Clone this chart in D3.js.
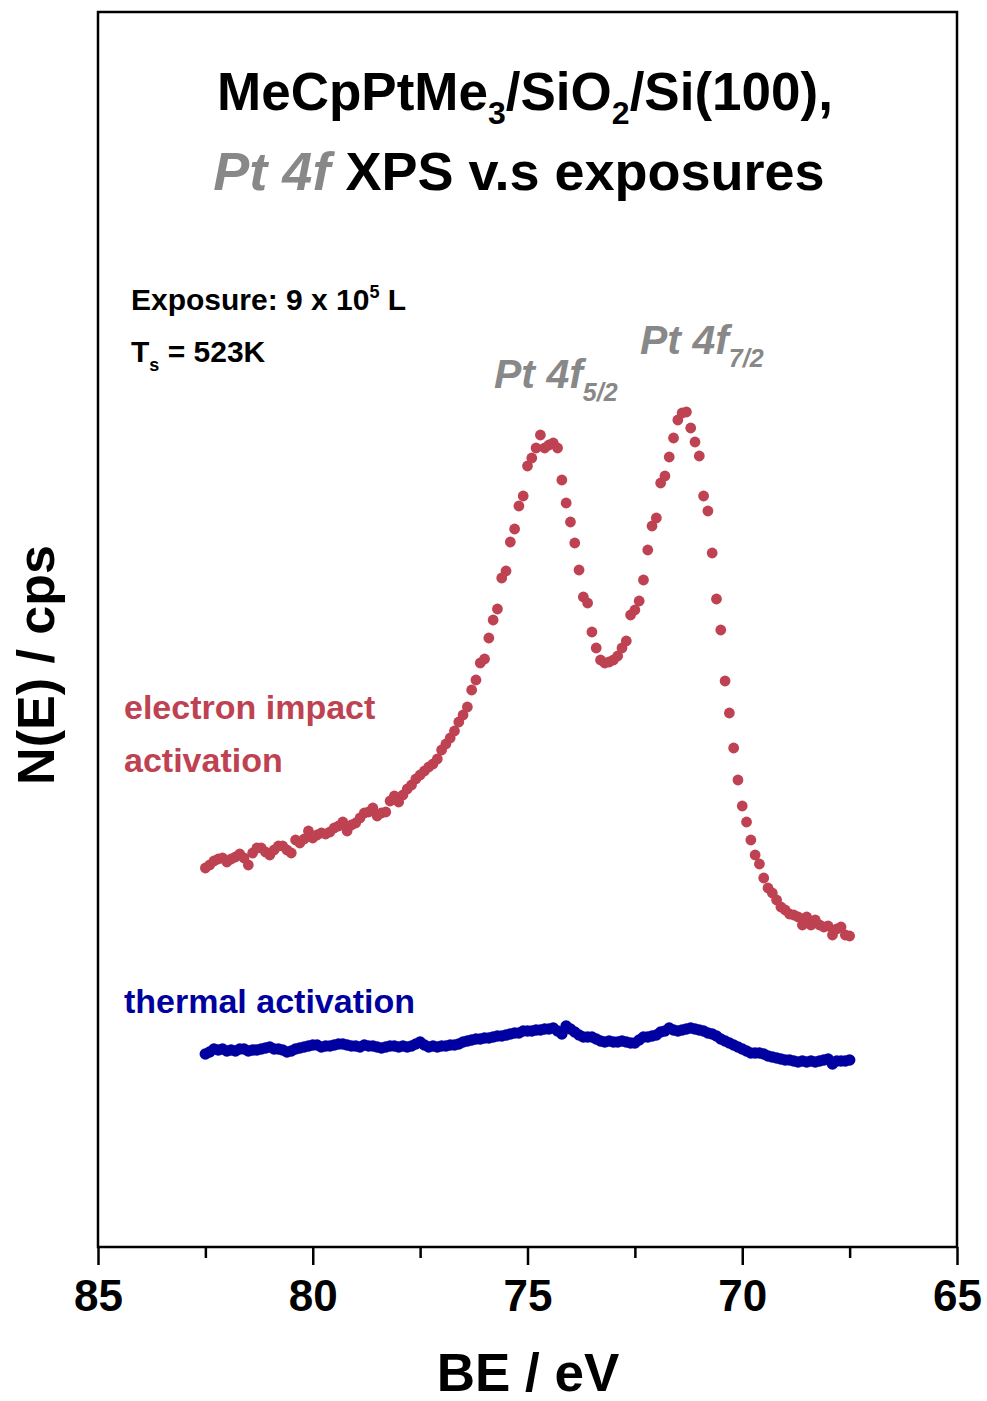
<!DOCTYPE html>
<html>
<head>
<meta charset="utf-8">
<script src="https://cdn.jsdelivr.net/npm/d3@7/dist/d3.min.js"></script>
<style>
  html, body { margin: 0; padding: 0; background: #fff; }
  svg { display: block; }
  text { font-family: "Liberation Sans", Arial, sans-serif; font-weight: bold; }
</style>
</head>
<body>
<svg id="chart" width="987" height="1401"></svg>
<script>
// Binding energy grid: 82.5 eV down to 67.5 eV in 0.1 eV steps
const beStart = 82.5;
const beStep = 0.1;

// Pt 4f spectrum after electron impact activation (arb. counts)
const electronImpact = [
  379,382,386,388,389,385,388,390,393,389,
  382,394,399,399,395,392,397,401,401,397,
  394,407,404,408,416,409,412,414,413,415,
  419,421,425,416,422,424,429,434,435,439,
  431,434,435,446,451,445,452,458,462,468,
  472,476,480,483,488,497,503,509,516,525,
  532,540,557,567,584,588,609,627,638,669,
  676,705,718,741,751,781,789,799,812,799,
  802,804,799,767,744,725,704,677,650,644,
  615,599,587,584,585,587,591,599,606,632,
  637,646,667,697,721,729,764,771,790,809,
  827,834,835,819,805,791,751,736,694,648,
  617,566,534,499,467,441,425,407,392,383,
  369,359,354,347,340,337,333,332,330,322,
  330,322,327,322,320,321,312,318,320,312,
  311
];

// Pt 4f spectrum after thermal activation (arb. counts)
const thermal = [
  193,195,198,197,198,196,197,196,198,198,
  196,197,197,198,199,200,198,198,197,195,
  196,198,199,200,201,202,202,200,201,201,
  202,203,203,202,201,201,200,202,201,201,
  200,199,200,201,201,200,201,200,201,203,
  205,202,200,201,200,201,201,202,202,203,
  205,206,207,208,208,209,209,210,211,211,
  212,213,214,214,216,216,216,217,217,218,
  218,219,216,213,221,218,215,212,210,210,
  210,208,206,205,206,205,205,206,205,204,
  204,207,210,210,211,212,215,216,219,217,
  216,217,218,219,218,217,216,214,213,211,
  208,206,204,202,200,198,196,194,194,194,
  193,191,190,189,188,187,187,186,185,186,
  185,186,185,186,187,188,183,186,186,186,
  187
];

const xTicks = [85, 80, 75, 70, 65];
const xMinorTicks = [82.5, 77.5, 72.5, 67.5];

const redColor = "#be4251";
const blueColor = "#0000a0";
const grayColor = "#888888";

const svg = d3.select("#chart");
const plot = { left: 98, right: 957, top: 12, bottom: 1247 };

const x = d3.scaleLinear().domain([85, 65]).range([plot.left, plot.right]);
const y = d3.scaleLinear().domain([0, 1235]).range([plot.bottom, plot.top]);

const toPoints = arr => arr.map((v, i) => ({ be: beStart - i * beStep, v }));

// Spectra as dots
svg.append("g").selectAll("circle")
  .data(toPoints(thermal))
  .join("circle")
  .attr("cx", d => x(d.be))
  .attr("cy", d => y(d.v))
  .attr("r", 5.8)
  .attr("fill", blueColor);

svg.append("g").selectAll("circle")
  .data(toPoints(electronImpact))
  .join("circle")
  .attr("cx", d => x(d.be))
  .attr("cy", d => y(d.v))
  .attr("r", 5.4)
  .attr("fill", redColor);

// Frame
svg.append("rect")
  .attr("x", plot.left).attr("y", plot.top)
  .attr("width", plot.right - plot.left)
  .attr("height", plot.bottom - plot.top)
  .attr("fill", "none").attr("stroke", "#000").attr("stroke-width", 2.5);

// Bottom axis: major ticks with labels, minor ticks without
const xAxis = d3.axisBottom(x).tickValues(xTicks).tickSize(18).tickPadding(15).tickFormat(d3.format("d"));
const gx = svg.append("g").attr("transform", `translate(0,${plot.bottom})`).call(xAxis);
gx.select(".domain").remove();
gx.selectAll(".tick line").attr("stroke", "#000").attr("stroke-width", 2.5);
gx.selectAll(".tick text")
  .attr("font-family", "Liberation Sans, Arial, sans-serif")
  .attr("font-weight", "bold")
  .attr("font-size", 44)
  .attr("fill", "#000");

const gxm = svg.append("g").attr("transform", `translate(0,${plot.bottom})`)
  .call(d3.axisBottom(x).tickValues(xMinorTicks).tickSize(11).tickFormat(""));
gxm.select(".domain").remove();
gxm.selectAll(".tick line").attr("stroke", "#000").attr("stroke-width", 2.5);

// Axis titles
svg.append("text")
  .attr("x", 528).attr("y", 1391)
  .attr("text-anchor", "middle")
  .attr("font-size", 53)
  .text("BE / eV");

svg.append("text")
  .attr("transform", "translate(54,665) rotate(-90)")
  .attr("text-anchor", "middle")
  .attr("font-size", 52)
  .text("N(E) / cps");

// Title
const t1 = svg.append("text")
  .attr("x", 525).attr("y", 110)
  .attr("text-anchor", "middle")
  .attr("font-size", 53);
t1.append("tspan").text("MeCpPtMe");
t1.append("tspan").attr("font-size", 32).attr("dy", 14).text("3");
t1.append("tspan").attr("dy", -14).text("/SiO");
t1.append("tspan").attr("font-size", 32).attr("dy", 14).text("2");
t1.append("tspan").attr("dy", -14).text("/Si(100),");

const t2 = svg.append("text")
  .attr("x", 519).attr("y", 190)
  .attr("text-anchor", "middle")
  .attr("font-size", 54);
t2.append("tspan").attr("fill", grayColor).attr("font-style", "italic").text("Pt 4f");
t2.append("tspan").text(" XPS v.s exposures");

// Experimental conditions
const e1 = svg.append("text").attr("x", 131).attr("y", 310).attr("font-size", 30);
e1.append("tspan").text("Exposure: 9 x 10");
e1.append("tspan").attr("font-size", 18).attr("dy", -12).text("5");
e1.append("tspan").attr("dy", 12).text(" L");

const e2 = svg.append("text").attr("x", 131).attr("y", 362).attr("font-size", 30);
e2.append("tspan").text("T");
e2.append("tspan").attr("font-size", 18).attr("dy", 9).text("s");
e2.append("tspan").attr("dy", -9).text(" = 523K");

// Peak labels
const p1 = svg.append("text").attr("x", 494).attr("y", 388)
  .attr("font-size", 41).attr("font-style", "italic").attr("fill", grayColor);
p1.append("tspan").text("Pt 4f");
p1.append("tspan").attr("font-size", 25).attr("dy", 13).text("5/2");

const p2 = svg.append("text").attr("x", 640).attr("y", 354)
  .attr("font-size", 41).attr("font-style", "italic").attr("fill", grayColor);
p2.append("tspan").text("Pt 4f");
p2.append("tspan").attr("font-size", 25).attr("dy", 13).text("7/2");

// Series labels
svg.append("text").attr("x", 124).attr("y", 719).attr("font-size", 34).attr("fill", redColor).text("electron impact");
svg.append("text").attr("x", 124).attr("y", 772).attr("font-size", 34).attr("fill", redColor).text("activation");
svg.append("text").attr("x", 124).attr("y", 1013).attr("font-size", 34).attr("fill", blueColor).text("thermal activation");
</script>
</body>
</html>
